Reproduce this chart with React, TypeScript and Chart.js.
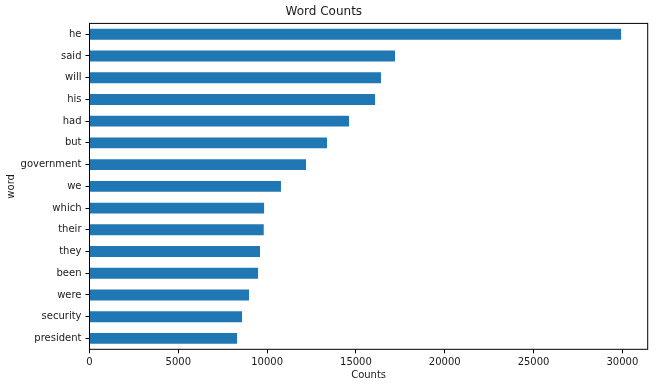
import React, { useEffect, useRef } from "react";
import { Chart, registerables } from "chart.js";

Chart.register(...registerables);

const words = ["he", "said", "will", "his", "had", "but", "government", "we", "which", "their", "they", "been", "were", "security", "president"];
const counts = [29930, 17200, 16410, 16080, 14610, 13370, 12190, 10780, 9830, 9810, 9600, 9490, 8980, 8590, 8310];
const xTicks = [0, 5000, 10000, 15000, 20000, 25000, 30000];

const FONT = "'DejaVu Sans', sans-serif";
const TEXT = "#1a1a1a";
const AXIS = "#000000";

const framePlugin = {
  id: "frame",
  afterDraw(chart: any) {
    const { ctx, chartArea } = chart;
    ctx.save();
    ctx.strokeStyle = AXIS;
    ctx.lineWidth = 1;
    ctx.strokeRect(chartArea.left, chartArea.top, chartArea.right - chartArea.left, chartArea.bottom - chartArea.top);
    ctx.restore();
  },
};

export default function App() {
  const ref = useRef<HTMLCanvasElement>(null);
  useEffect(() => {
    document.body.style.margin = "0";
    const chart = new Chart(ref.current!, {
      type: "bar",
      data: {
        labels: words,
        datasets: [
          {
            data: counts,
            backgroundColor: "#1f77b4",
            borderWidth: 0,
            barPercentage: 0.5,
            categoryPercentage: 1,
          },
        ],
      },
      options: {
        indexAxis: "y",
        animation: false,
        responsive: true,
        maintainAspectRatio: false,
        layout: { padding: { left: 0, right: 9.3, top: 0, bottom: 0 } },
        plugins: {
          legend: { display: false },
          tooltip: { enabled: false },
          title: {
            display: true,
            text: "Word Counts",
            color: TEXT,
            font: { family: FONT, size: 12, weight: "normal" },
            padding: { top: 5, bottom: 4 },
          },
        },
        scales: {
          x: {
            type: "linear",
            min: 0,
            max: Math.max(...counts) * 1.05,
            afterBuildTicks: (scale: any) => {
              scale.ticks = xTicks.map((v) => ({ value: v }));
            },
            afterFit: (scale: any) => {
              scale.height = 37.7;
            },
            ticks: {
              color: TEXT,
              font: { family: FONT, size: 10 },
              padding: 3,
              maxRotation: 0,
              includeBounds: false,
              callback: (v: any) => String(v),
            },
            grid: {
              display: true,
              drawOnChartArea: false,
              drawTicks: true,
              tickLength: 4,
              color: AXIS,
            },
            border: { display: false },
            title: {
              display: true,
              text: "Counts",
              color: TEXT,
              font: { family: FONT, size: 10 },
              padding: { top: 0, bottom: 6 },
            },
          },
          y: {
            type: "category",
            offset: true,
            afterFit: (scale: any) => {
              scale.width = 89.5;
            },
            ticks: {
              color: TEXT,
              font: { family: FONT, size: 10 },
              padding: 4,
            },
            grid: {
              display: true,
              offset: false,
              drawOnChartArea: false,
              drawTicks: true,
              tickLength: 4,
              color: AXIS,
            },
            border: { display: false },
            title: {
              display: true,
              text: "word",
              color: TEXT,
              font: { family: FONT, size: 10 },
              padding: { top: 5.7, bottom: 0 },
            },
          },
        },
      },
      plugins: [framePlugin],
    } as any);
    return () => chart.destroy();
  }, []);
  return (
    <div style={{ position: "absolute", left: 0, top: 0, width: 657, height: 387 }}>
      <canvas ref={ref} />
    </div>
  );
}
